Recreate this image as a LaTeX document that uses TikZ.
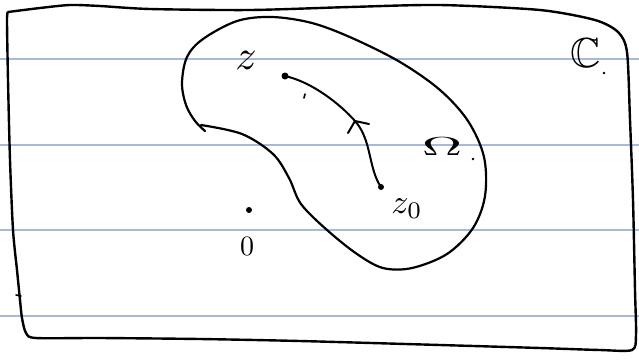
\documentclass[tikz,border=0pt]{standalone}
\usepackage{amssymb}
\usepackage{graphicx}
\definecolor{rule}{RGB}{168,186,218}
\tikzset{
  ink/.style={line width=2.2pt, line cap=round, line join=round, black},
  ruled/.style={line width=1.4pt, rule},
  dot/.style={circle, fill=black, inner sep=0pt, minimum size=7pt},
  tinydot/.style={circle, fill=black, inner sep=0pt, minimum size=2.6pt},
  lbl/.style={inner sep=0pt, text=black}
}
\begin{document}
\begin{tikzpicture}[x=1pt,y=-1pt]
\useasboundingbox (0,0) rectangle (639,360);
% ruled lines
\foreach \yy in {59,145,230,316} \draw[ruled] (0,\yy) -- (639,\yy);
% outer hand-drawn frame (the plane C)
\draw[ink, line width=2.4pt] plot[smooth, tension=0.45] coordinates {
  (8,12) (40,8) (70,5) (100,6) (150,9) (250,10) (350,7) (440,5) (540,10) (595,20) (618,32) (627,52)
  (630,120) (633,200) (635,290) (636,335) (632,350) (600,350) (540,348) (440,345) (300,341) (200,339)
  (100,338) (36,338) (26,333) (22,318) (20,300) (17,270) (13,230) (10,160) (8,80) (7,20) (8,12)};
\draw[ink, line width=1.6pt] (16,295) -- (21,296);
% region Omega
\draw[ink] plot[smooth, tension=0.55] coordinates {
  (205,131) (195,121) (186,105) (182,83) (187,57) (203,39) (237,21) (272,17) (312,23) (352,38)
  (400,62) (440,90) (468,121) (484,157) (485,196) (473,228) (447,254) (412,268) (383,268)
  (357,254) (327,230) (301,204) (289,178) (273,154) (242,134) (201,125)};
% points
\node[dot] (zd) at (285,76) {};
\node[dot, minimum size=6pt] (z0d) at (381,187) {};
\node[dot, minimum size=6pt] (od) at (249,210) {};
\coordinate (mid) at (355,121);
% path from z0 to z
\draw[ink, line width=2pt] (zd.center) .. controls (312,82) and (340,104) .. (mid)
  .. controls (372,140) and (368,168) .. (z0d.center);
\draw[ink, line width=2pt] (mid) -- (348,133);
\draw[ink, line width=2pt] (mid) -- (369,124);
\draw[ink, line width=1.6pt] (305,94) -- (304,98);
% labels
\node[lbl] (zl) at (246,60) {\scalebox{4.2}{$z$}};
\node[lbl] (z0l) at (407,209) {\scalebox{3.4}{$z_0$}};
\node[lbl] (om) at (442,147) {\scalebox{5.6}[2.6]{$\Omega$}};
\node[tinydot] (omdot) at (473,159) {};
\node[lbl] (cl) at (586,53) {\scalebox{4.2}{$\mathbb{C}$}};
\node[tinydot] (cdot) at (604,73) {};
\node[lbl] (zero) at (247,246) {\scalebox{2.8}{$0$}};
\end{tikzpicture}
\end{document}
